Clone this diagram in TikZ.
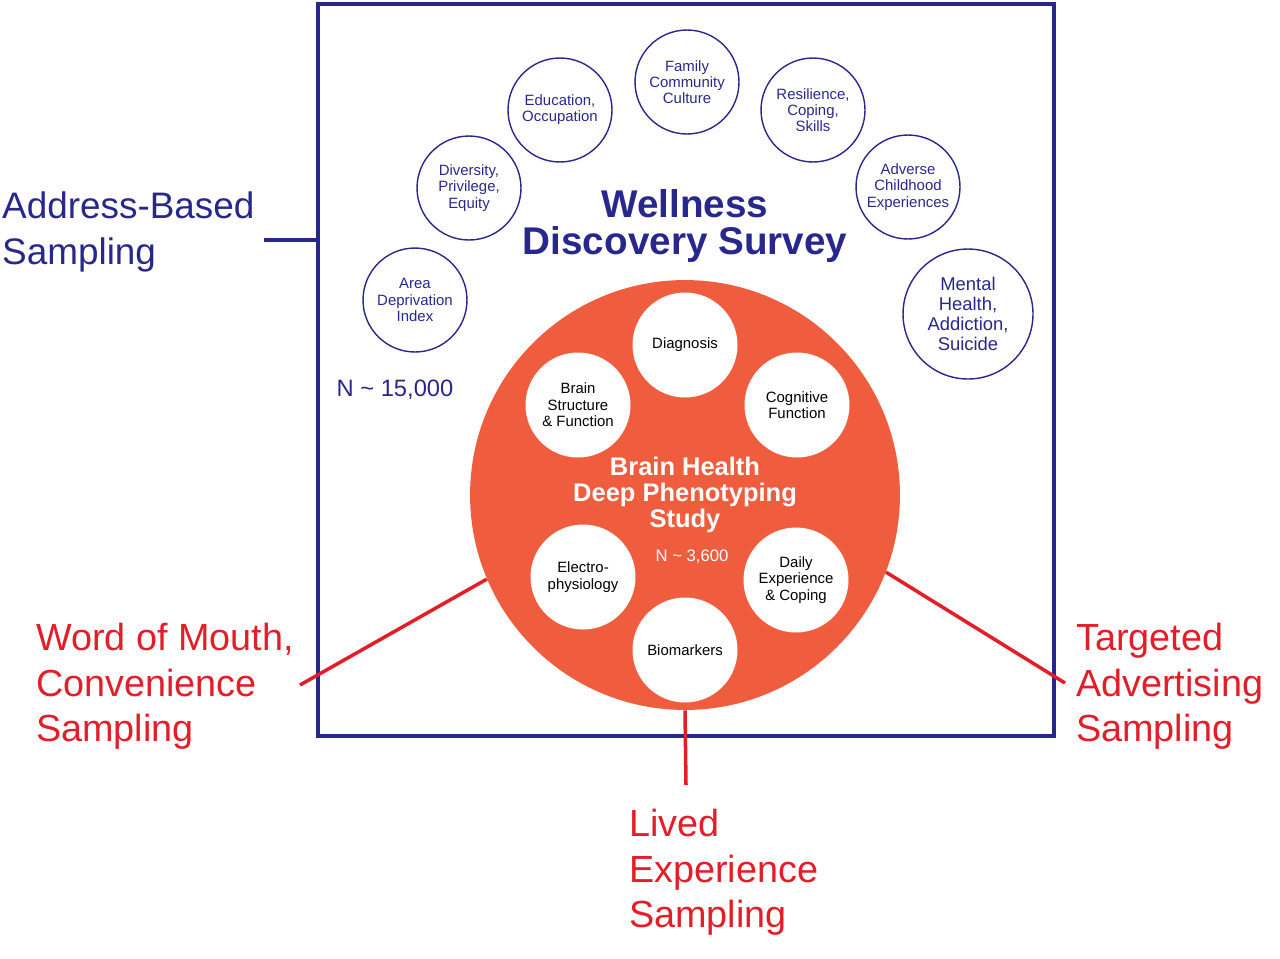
\documentclass[tikz,border=0pt]{standalone}
\usepackage{fontspec}
\setmainfont{Liberation Sans}
\usetikzlibrary{positioning}
\definecolor{navy}{RGB}{40, 40, 140}
\definecolor{coral}{RGB}{240, 92, 62}
\definecolor{redline}{RGB}{226, 30, 40}
\begin{document}
\begin{tikzpicture}[x=0.02cm, y=-0.02cm,
    topic/.style={circle, draw=navy, thick, minimum size=2.08cm, inner sep=0pt,
                  align=center, text=navy, font=\fontsize{8.5}{9.2}\selectfont},
    core/.style={circle, fill=white, minimum size=2.1cm, inner sep=0pt,
                 align=center, font=\fontsize{8.5}{9.4}\selectfont},
    sample/.style={align=left, text=redline, anchor=north west,
                   font=\fontsize{21.5}{26}\selectfont}]
    \useasboundingbox (0,0) rectangle (1280,958);

    \node[draw=navy, line width=2pt, minimum width=14.72cm, minimum height=14.64cm,
          inner sep=0pt] (box) at (686,370) {};

    \node[topic] (adi) at (415,300) {Area\\Deprivation\\Index};
    \node[topic] (div) at (469,188) {Diversity,\\Privilege,\\Equity};
    \node[topic] (edu) at (560,110) {Education,\\Occupation};
    \node[topic] (fam) at (687,82) {Family\\Community\\Culture};
    \node[topic] (res) at (813,110) {Resilience,\\Coping,\\Skills};
    \node[topic] (ace) at (908,187) {Adverse\\Childhood\\Experiences};
    \node[topic, minimum size=2.6cm, font=\fontsize{10.5}{11.5}\selectfont] (mh) at (968,314)
        {Mental\\Health,\\Addiction,\\Suicide};

    \node[align=center, text=navy, font=\bfseries\fontsize{22}{20.5}\selectfont] (wds) at (685,226)
        {Wellness\\Discovery Survey};
    \node[text=navy, font=\fontsize{13.5}{15}\selectfont] (n1) at (395,390) {N \textasciitilde{} 15,000};

    \node[circle, fill=coral, minimum size=8.6cm, inner sep=0pt] (big) at (685,495) {};
    \node[core] (dia) at (685,345) {Diagnosis};
    \node[core] (bsf) at (578,405) {Brain\\Structure\\\& Function};
    \node[core] (cog) at (797,405) {Cognitive\\Function};
    \node[core] (eph) at (583,577) {Electro-\\physiology};
    \node[core] (dec) at (796,580) {Daily\\Experience\\\& Coping};
    \node[core] (bio) at (685,650) {Biomarkers};
    \node[align=center, text=white, font=\bfseries\fontsize{14.5}{14.6}\selectfont] (bh) at (685,495)
        {Brain Health\\Deep Phenotyping\\Study};
    \node[text=white, font=\fontsize{9.5}{11}\selectfont] (n2) at (692,557) {N \textasciitilde{} 3,600};

    \node[align=left, text=navy, anchor=north west, font=\fontsize{21}{26}\selectfont] (abs) at (-4,186)
        {Address-Based\\Sampling};
    \coordinate (absend) at (264,240);
    \draw[navy, line width=2pt] (absend) -- (box.west |- absend);

    \node[sample] (wom) at (30,617) {Word of Mouth,\\Convenience\\Sampling};
    \node[sample] (les) at (623,803) {Lived\\Experience\\Sampling};
    \node[sample] (tas) at (1070,617) {Targeted\\Advertising\\Sampling};
    \coordinate (womend) at (300,685);
    \coordinate (lesend) at (686,785);
    \coordinate (tasend) at (1065,683);
    \draw[redline, line width=2pt] (big.203) -- (womend);
    \draw[redline, line width=2pt] (big.south) -- (lesend);
    \draw[redline, line width=2pt] (big.-21) -- (tasend);
\end{tikzpicture}
\end{document}
